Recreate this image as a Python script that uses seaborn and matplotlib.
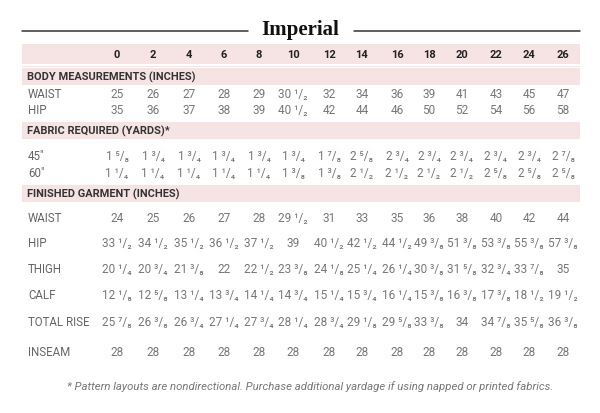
import matplotlib
matplotlib.use('Agg')
import seaborn as sns
import matplotlib.pyplot as plt

sizes = ['0', '2', '4', '6', '8', '10', '12', '14', '16', '18', '20', '22', '24', '26']

body_waist = ['25', '26', '27', '28', '29', '30 1/2', '32', '34', '36', '39', '41', '43', '45', '47']
body_hip = ['35', '36', '37', '38', '39', '40 1/2', '42', '44', '46', '50', '52', '54', '56', '58']

fabric_45 = ['1 5/8', '1 3/4', '1 3/4', '1 3/4', '1 3/4', '1 3/4', '1 7/8', '2 5/8', '2 3/4', '2 3/4', '2 3/4', '2 3/4', '2 3/4', '2 7/8']
fabric_60 = ['1 1/4', '1 1/4', '1 1/4', '1 1/4', '1 1/4', '1 3/8', '1 3/8', '2 1/2', '2 1/2', '2 1/2', '2 1/2', '2 5/8', '2 5/8', '2 5/8']

fin_waist = ['24', '25', '26', '27', '28', '29 1/2', '31', '33', '35', '36', '38', '40', '42', '44']
fin_hip = ['33 1/2', '34 1/2', '35 1/2', '36 1/2', '37 1/2', '39', '40 1/2', '42 1/2', '44 1/2', '49 3/8', '51 3/8', '53 3/8', '55 3/8', '57 3/8']
fin_thigh = ['20 1/4', '20 3/4', '21 3/8', '22', '22 1/2', '23 3/8', '24 1/8', '25 1/4', '26 1/4', '30 3/8', '31 5/8', '32 3/4', '33 7/8', '35']
fin_calf = ['12 1/8', '12 5/8', '13 1/4', '13 3/4', '14 1/4', '14 3/4', '15 1/4', '15 3/4', '16 1/4', '15 3/8', '16 3/8', '17 3/8', '18 1/2', '19 1/2']
fin_rise = ['25 7/8', '26 3/8', '26 3/4', '27 1/4', '27 3/4', '28 1/4', '28 3/4', '29 1/8', '29 5/8', '33 3/8', '34', '34 7/8', '35 5/8', '36 3/8']
fin_inseam = ['28'] * 14

# section title, y of band, rows as (label, values, y)
sections = [
    ('BODY MEASUREMENTS (INCHES)', 77, [('WAIST', body_waist, 95), ('HIP', body_hip, 111)]),
    ('FABRIC REQUIRED (YARDS)*', 131, [('45"', fabric_45, 157), ('60"', fabric_60, 174)]),
    ('FINISHED GARMENT (INCHES)', 194, [('WAIST', fin_waist, 219), ('HIP', fin_hip, 244),
                                       ('THIGH', fin_thigh, 270), ('CALF', fin_calf, 296),
                                       ('TOTAL RISE', fin_rise, 323), ('INSEAM', fin_inseam, 353)]),
]

col_x = [117, 153, 189, 224, 259, 293, 329, 362, 397, 429, 462, 496, 529, 563]

SUP = str.maketrans('0123456789', '\u2070\u00b9\u00b2\u00b3\u2074\u2075\u2076\u2077\u2078\u2079')
SUB = str.maketrans('0123456789', '\u2080\u2081\u2082\u2083\u2084\u2085\u2086\u2087\u2088\u2089')


def pretty(v):
    parts = v.split(' ')
    if len(parts) == 2:
        n, d = parts[1].split('/')
        return parts[0] + ' ' + n.translate(SUP) + '/' + d.translate(SUB)
    return v


sns.set_theme(style='white')
plt.rcParams['font.family'] = ['Roboto', 'DejaVu Sans']

fig = plt.figure(figsize=(6, 4.14), dpi=100)
ax = fig.add_axes([0, 0, 1, 1])
ax.set_xlim(0, 600)
ax.set_ylim(414, 0)
ax.axis('off')

pink = '#f6e4e4'
left, right = 22, 580

# title with rules
ax.text(300, 30, 'Imperial', ha='center', va='center', fontsize=15, fontweight='bold',
        family=['Liberation Serif', 'DejaVu Serif'], color='#111111')
ax.plot([left, 248], [32, 32], color='#333333', lw=1.1)
ax.plot([354, right], [32, 32], color='#333333', lw=1.1)

# size header
ax.axhspan(45, 65, xmin=left / 600, xmax=right / 600, color=pink, lw=0)
ax.axhspan(67, 68, xmin=left / 600, xmax=right / 600, color=pink, lw=0)
for x, s in zip(col_x, sizes):
    ax.text(x, 55.5, s, ha='center', va='center', fontsize=8, fontweight='bold', color='#222222')

for title, ty, rows in sections:
    ax.axhspan(ty - 8.5, ty + 8.5, xmin=left / 600, xmax=right / 600, color=pink, lw=0)
    ax.text(27, ty, title, ha='left', va='center', fontsize=7.9, fontweight='bold', color='#333333')
    for label, vals, y in rows:
        ax.text(28, y, label, ha='left', va='center', fontsize=8.3, color='#666666')
        for x, v in zip(col_x, vals):
            ax.text(x, y, pretty(v), ha='center', va='center', fontsize=8.5, color='#777777')

ax.text(310, 387, '* Pattern layouts are nondirectional. Purchase additional yardage if using napped or printed fabrics.',
        ha='center', va='center', fontsize=8.2, style='italic', color='#777777')

fig.savefig('out.png', dpi=100)
